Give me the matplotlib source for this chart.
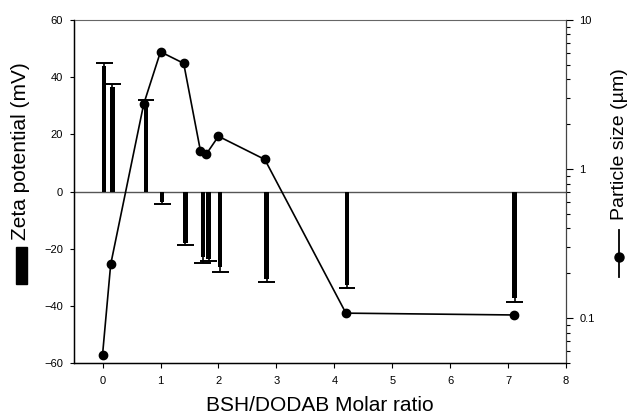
import matplotlib
matplotlib.use("Agg")
import matplotlib.pyplot as plt
from matplotlib.patches import Rectangle
from matplotlib.lines import Line2D
import matplotlib.ticker as mticker

plt.rcParams['font.family'] = ['Liberation Sans', 'DejaVu Sans']

# Zeta potential bars
bar_x = [0.03, 0.17, 0.75, 1.03, 1.43, 1.73, 1.83, 2.03, 2.83, 4.22, 7.11]
zeta = [44.0, 36.6, 31.0, -3.5, -18.0, -23.0, -23.6, -26.4, -30.7, -32.7, -37.3]
zeta_err = [1.0, 0.9, 1.0, 0.7, 0.8, 2.0, 0.8, 1.6, 0.9, 1.2, 1.3]

# Particle size
size_x = [0.0, 0.14, 0.71, 1.0, 1.4, 1.69, 1.79, 2.0, 2.8, 4.2, 7.1]
size_um = [0.057, 0.229, 2.73, 6.12, 5.12, 1.32, 1.26, 1.66, 1.16, 0.108, 0.105]

x_ticks = [0, 1, 2, 3, 4, 5, 6, 7, 8]
zeta_ticks = [-60, -40, -20, 0, 20, 40, 60]

fig = plt.figure(figsize=(6.29, 4.16), dpi=100)
ax = fig.add_axes([0.117, 0.1274, 0.783, 0.8245])

ax.bar(bar_x, zeta, width=0.075, color='black', zorder=2)
# one-sided error bars (away from zero)
err_end = [v + e if v > 0 else v - e for v, e in zip(zeta, zeta_err)]
ax.vlines(bar_x, zeta, err_end, color='black', lw=1.2, zorder=2)
cap_half = 0.145
ax.hlines(err_end, [x - cap_half for x in bar_x], [x + cap_half for x in bar_x],
          color='black', lw=1.4, zorder=2)
ax.axhline(0, color='#555555', lw=1.0, zorder=1)

ax.set_xlim(-0.5, 8)
ax.set_ylim(-60, 60)
ax.set_xticks(x_ticks)
ax.set_yticks(zeta_ticks)
ax.tick_params(axis='y', labelsize=8, length=3, width=0.8, direction='out', pad=4.5)
ax.tick_params(axis='x', labelsize=8, length=3.5, width=0.8, direction='out', pad=6)
ax.set_xlabel('BSH/DODAB Molar ratio', fontsize=15, labelpad=7)
ax.spines['top'].set_color('#666666')
for s in ['left', 'bottom']:
    ax.spines[s].set_linewidth(1.0)

ax2 = ax.twinx()
ax2.plot(size_x, size_um, '-o', color='black', lw=1.2, markersize=6, zorder=3)
ax2.set_yscale('log')
ax2.set_ylim(0.05, 10)
ax2.yaxis.set_major_locator(mticker.FixedLocator([0.1, 1, 10]))
ax2.yaxis.set_major_formatter(mticker.FixedFormatter(['0.1', '1', '10']))
ax2.yaxis.set_minor_locator(mticker.LogLocator(base=10, subs=range(2, 10)))
ax2.yaxis.set_minor_formatter(mticker.NullFormatter())
ax2.tick_params(axis='y', which='major', labelsize=8, length=5, width=0.8, pad=4.5)
ax2.tick_params(axis='y', which='minor', length=3, width=0.8)
ax2.spines['top'].set_visible(False)
ax2.spines['right'].set_color('#444444')

# Left label with bar symbol
fig.text(21/629, 1 - 151/416, 'Zeta potential (mV)', rotation=90, fontsize=15,
         ha='center', va='center')
fig.patches.append(Rectangle((15.5/629, 1 - 284/416), 11/629, 37/416,
                             transform=fig.transFigure, color='black'))

# Right label with line-marker symbol
fig.text(619/629, 1 - 144/416, 'Particle size (µm)', rotation=90, fontsize=14,
         ha='center', va='center')
fig.lines.append(Line2D([619/629, 619/629], [1 - 230/416, 1 - 277/416],
                        transform=fig.transFigure, color='black', lw=1.3))
fig.lines.append(Line2D([619/629], [1 - 257/416], transform=fig.transFigure,
                        color='black', marker='o', markersize=6.5))

fig.savefig('out.png', dpi=100)
